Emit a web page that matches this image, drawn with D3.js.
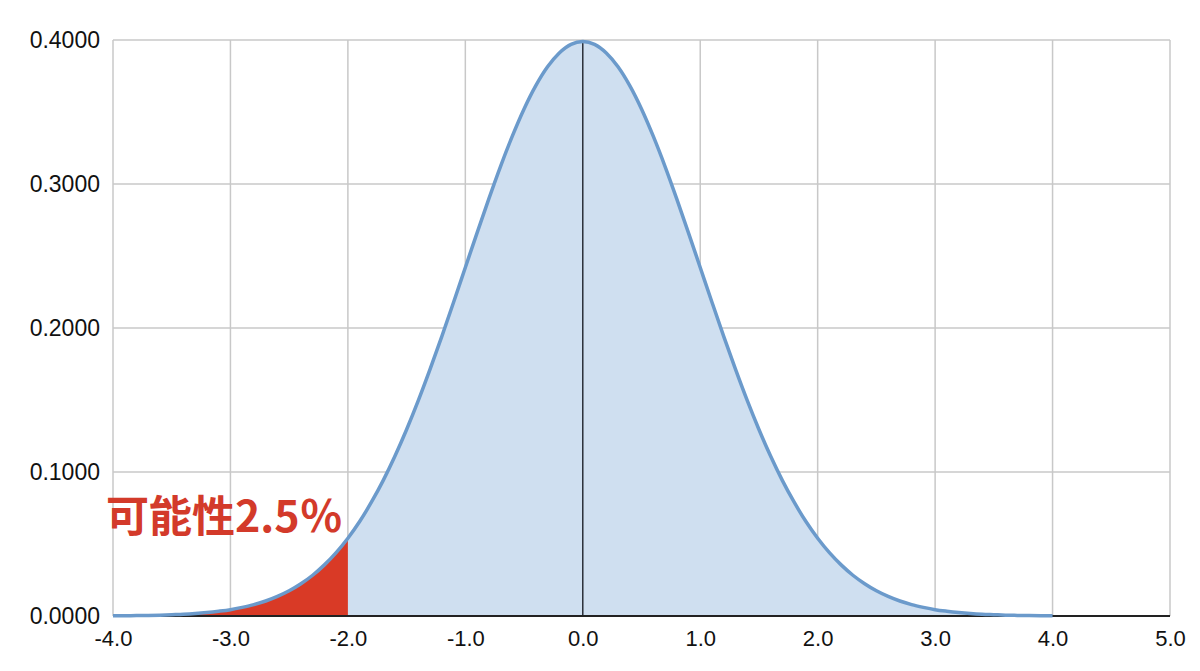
<!DOCTYPE html>
<html><head><meta charset="utf-8">
<script src="https://cdn.jsdelivr.net/npm/d3@7"></script>
<style>body{margin:0;background:#fff;}svg{display:block;}</style>
</head><body>
<script>
// data: x values and density (standard normal curve)
const xs = [-4.0,-3.9,-3.8,-3.7,-3.6,-3.5,-3.4,-3.3,-3.2,-3.1,-3.0,-2.9,-2.8,-2.7,-2.6,-2.5,-2.4,-2.3,-2.2,-2.1,-2.0,-1.9,-1.8,-1.7,-1.6,-1.5,-1.4,-1.3,-1.2,-1.1,-1.0,-0.9,-0.8,-0.7,-0.6,-0.5,-0.4,-0.3,-0.2,-0.1,0.0,0.1,0.2,0.3,0.4,0.5,0.6,0.7,0.8,0.9,1.0,1.1,1.2,1.3,1.4,1.5,1.6,1.7,1.8,1.9,2.0,2.1,2.2,2.3,2.4,2.5,2.6,2.7,2.8,2.9,3.0,3.1,3.2,3.3,3.4,3.5,3.6,3.7,3.8,3.9,4.0];
const density = [0.0001,0.0002,0.0003,0.0004,0.0006,0.0009,0.0012,0.0017,0.0024,0.0033,0.0044,0.0060,0.0079,0.0104,0.0136,0.0175,0.0224,0.0283,0.0355,0.0440,0.0540,0.0656,0.0790,0.0940,0.1109,0.1295,0.1497,0.1714,0.1942,0.2179,0.2420,0.2661,0.2897,0.3123,0.3332,0.3521,0.3683,0.3814,0.3910,0.3970,0.3989,0.3970,0.3910,0.3814,0.3683,0.3521,0.3332,0.3123,0.2897,0.2661,0.2420,0.2179,0.1942,0.1714,0.1497,0.1295,0.1109,0.0940,0.0790,0.0656,0.0540,0.0440,0.0355,0.0283,0.0224,0.0175,0.0136,0.0104,0.0079,0.0060,0.0044,0.0033,0.0024,0.0017,0.0012,0.0009,0.0006,0.0004,0.0003,0.0002,0.0001];
const xTicks = [-4,-3,-2,-1,0,1,2,3,4,5];
const xTickLabels = ["-4.0","-3.0","-2.0","-1.0","0.0","1.0","2.0","3.0","4.0","5.0"];
const yTicks = [0,0.1,0.2,0.3,0.4];
const yTickLabels = ["0.0000","0.1000","0.2000","0.3000","0.4000"];
const tailCut = -2.0;
const annotation = "可能性2.5％";

const W = 1200, H = 671;
const svg = d3.select("body").append("svg").attr("width", W).attr("height", H);
const x = d3.scaleLinear().domain([-4, 5]).range([113, 1170]);
const y = d3.scaleLinear().domain([0, 0.4]).range([616, 40]);

const pts = xs.map((v, i) => ({x: v, y: density[i]}));
const tail = pts.filter(d => d.x <= tailCut + 1e-9);

// grid
svg.append("g").selectAll("line.h").data(yTicks.filter(t => t > 0)).join("line")
  .attr("x1", x(-4)).attr("x2", x(5)).attr("y1", d => y(d)).attr("y2", d => y(d))
  .attr("stroke", "#c8c8c8").attr("stroke-width", 1.5);
svg.append("g").selectAll("line.v").data(xTicks).join("line")
  .attr("x1", d => x(d)).attr("x2", d => x(d)).attr("y1", y(0)).attr("y2", y(0.4))
  .attr("stroke", "#c8c8c8").attr("stroke-width", 1.5);

// areas
const area = d3.area().x(d => x(d.x)).y0(y(0)).y1(d => y(d.y)).curve(d3.curveMonotoneX);
svg.append("path").datum(pts).attr("d", area).attr("fill", "#cfdff0");
svg.append("path").datum(tail).attr("d", area).attr("fill", "#d93a26");

// zero line
svg.append("line").attr("x1", x(0)).attr("x2", x(0)).attr("y1", y(0)).attr("y2", y(0.3989))
  .attr("stroke", "#2a2f38").attr("stroke-width", 1.5);

// bottom axis line
svg.append("line").attr("x1", x(-4)).attr("x2", x(5)).attr("y1", y(0)).attr("y2", y(0))
  .attr("stroke", "#222").attr("stroke-width", 2);

// curve
const line = d3.line().x(d => x(d.x)).y(d => y(d.y)).curve(d3.curveMonotoneX);
svg.append("path").datum(pts).attr("d", line).attr("fill", "none")
  .attr("stroke", "#6b9acb").attr("stroke-width", 3.5).attr("stroke-linejoin", "round");

// axis labels
const font = "'Liberation Sans', Arial, Helvetica, sans-serif";
const xAxis = d3.axisBottom(x).tickValues(xTicks).tickSize(0).tickPadding(14)
  .tickFormat((d, i) => xTickLabels[i]);
const gx = svg.append("g").attr("transform", `translate(0,${y(0)})`).call(xAxis);
gx.select(".domain").remove();
gx.selectAll("text").attr("font-family", font).attr("font-size", 22).attr("fill", "#111");

const yAxis = d3.axisLeft(y).tickValues(yTicks).tickSize(0).tickPadding(13)
  .tickFormat((d, i) => yTickLabels[i]);
const gy = svg.append("g").attr("transform", `translate(${x(-4)},0)`).call(yAxis);
gy.select(".domain").remove();
gy.selectAll("text").attr("font-family", font).attr("font-size", 23).attr("fill", "#111");

// annotation
svg.append("text").attr("x", 106).attr("y", 532).text(annotation)
  .attr("font-family", "'Noto Sans CJK JP', 'Noto Sans CJK SC', sans-serif")
  .attr("font-weight", 700).attr("font-size", 43).attr("fill", "#d33a2a");
</script>
</body></html>
